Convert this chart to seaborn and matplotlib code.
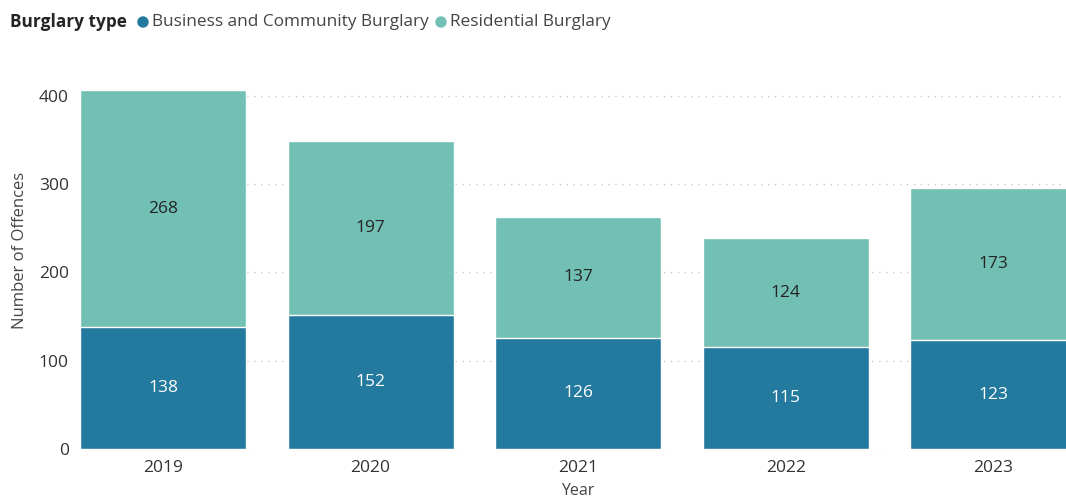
import matplotlib
matplotlib.use("Agg")
import matplotlib.pyplot as plt
import seaborn as sns
import pandas as pd

years = ["2019", "2020", "2021", "2022", "2023"]
business = [138, 152, 126, 115, 123]
residential = [268, 197, 137, 124, 173]
series_names = ["Business and Community Burglary", "Residential Burglary"]
legend_title = "Burglary type"

dark = "#237A9E"
light = "#71C0B3"

sns.set_theme(style="white")
plt.rcParams["font.family"] = ["Open Sans", "DejaVu Sans"]

df = pd.DataFrame({"Year": years, "business": business, "residential": residential})
df["total"] = df["business"] + df["residential"]

W, H = 1066, 498
fig = plt.figure(figsize=(10.66, 4.98), dpi=100)
ax_left, ax_bottom, ax_top = 80, 449, 78
ax = fig.add_axes([ax_left / W, 1 - ax_bottom / H, (W - ax_left) / W, (ax_bottom - ax_top) / H])

sns.barplot(data=df, x="Year", y="total", color=light, saturation=1, width=0.8, ax=ax)
sns.barplot(data=df, x="Year", y="business", color=dark, saturation=1, width=0.8, ax=ax)

ax.set_ylim(0, 420)
ax.set_xlim(-0.4, 4.35)
ax.set_yticks([0, 100, 200, 300, 400])
for v in [0, 100, 200, 300, 400]:
    ax.axhline(v, color="#c8c8c8", linestyle=(0, (1, 4)), linewidth=1, zorder=0)
for s in ax.spines.values():
    s.set_visible(False)
ax.tick_params(axis="both", length=0, labelsize=12.5, colors="#333333")
ax.tick_params(axis="y", pad=8)
ax.tick_params(axis="x", pad=8)
ax.set_xlabel("Year", fontsize=11.5, color="#444444")
ax.set_ylabel("Number of Offences", fontsize=12, color="#444444")
ax.xaxis.set_label_coords(0.505, -(491 - ax_bottom) / (ax_bottom - ax_top), transform=ax.transAxes)
ax.yaxis.set_label_coords(-(ax_left - 20) / (W - ax_left), (ax_bottom - 250) / (ax_bottom - ax_top),
                          transform=ax.transAxes)
ax.xaxis.label.set_va("center")
ax.yaxis.label.set_va("center")

for i, (b, r) in enumerate(zip(business, residential)):
    ax.text(i, b / 2, str(b), ha="center", va="center", color="white", fontsize=12.5)
    ax.text(i, b + r / 2, str(r), ha="center", va="center", color="#252423", fontsize=12.5)

# legend row along the top
fig.text(10 / W, 1 - 22 / H, legend_title, fontsize=12.4, fontweight="bold",
         color="#252423", va="center", ha="left")
for xc, name, col in [(143, series_names[0], dark), (441, series_names[1], light)]:
    fig.patches.append(matplotlib.patches.Ellipse((xc / W, 1 - 22 / H), 10 / W, 10 / H,
                                                  transform=fig.transFigure, color=col, figure=fig))
    fig.text((xc + 9) / W, 1 - 22 / H, name, fontsize=12.4, color="#444444", va="center", ha="left")

fig.savefig("out.png", dpi=100)
